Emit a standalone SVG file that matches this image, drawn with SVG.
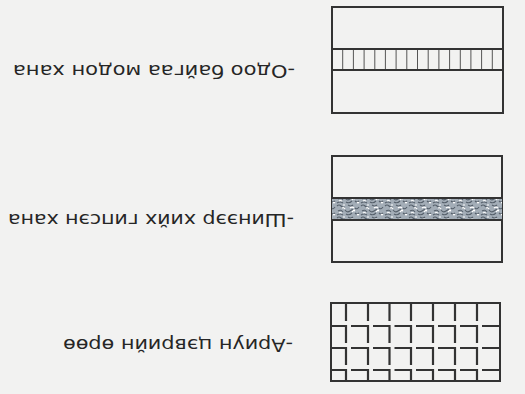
<svg xmlns="http://www.w3.org/2000/svg" width="525" height="394" viewBox="0 0 525 394">
  <defs>
    <pattern id="gypsum" patternUnits="userSpaceOnUse" width="24" height="12">
      <rect width="24" height="12" fill="#a3adb7"/>
      <path d="M1 2 q2 -2 4 0 t4 1 M12 1 q3 2 5 0 M19 4 q2 2 4 -1 M2 7 q3 -2 5 1 M9 6 q2 3 5 1 t4 -1 M1 11 q3 -2 6 0 M10 10 q3 2 6 -1 M19 9 q2 2 4 0" fill="none" stroke="#56606b" stroke-width="1.1"/>
      <path d="M6 4 q2 -1 3 1 M14 4 q2 -2 4 0 M3 9 q1 -1 3 0 M16 8 q1 -2 3 -1 M21 11 q1 -1 2 0 M7 1 h2 M17 6 h2" fill="none" stroke="#ffffff" stroke-width="1.2"/>
    </pattern>
    <style>
      .frame { fill: none; stroke: #333; stroke-width: 2; }
      .thin { fill: none; stroke: #555; stroke-width: 1; }
      .brick { fill: none; stroke: #333; stroke-width: 2.2; stroke-linecap: butt; }
      .label { font-family: "DejaVu Sans", "Liberation Sans", sans-serif; font-size: 17px; fill: #262626; }
    </style>
  </defs>
  <rect x="0" y="0" width="525" height="394" fill="#f2f2f1"/>

  <g id="existing-wooden-wall">
    <rect class="frame" x="332" y="7" width="171" height="106"/>
    <path class="thin" d="M342.7 49V70M353.4 49V70M364.1 49V70M374.8 49V70M385.4 49V70M396.1 49V70M406.8 49V70M417.5 49V70M428.2 49V70M438.9 49V70M449.6 49V70M460.3 49V70M470.9 49V70M481.6 49V70M492.3 49V70"/>
    <path class="frame" d="M332 49H503M332 70H503"/>
    <text class="label" transform="translate(295,65) rotate(180)" x="0" y="0" textLength="282" lengthAdjust="spacingAndGlyphs">-Одоо байгаа модон хана</text>
  </g>

  <g id="new-gypsum-wall">
    <rect class="frame" x="332" y="156" width="170" height="106"/>
    <rect x="332" y="198" width="170" height="22" fill="url(#gypsum)"/>
    <path class="frame" d="M332 198H502M332 220H502"/>
    <text class="label" transform="translate(294,214) rotate(180)" x="0" y="0" textLength="286" lengthAdjust="spacingAndGlyphs">-Шинээр хийх гипсэн хана</text>
  </g>

  <g id="bathroom">
    <rect class="frame" x="331" y="303" width="169" height="78"/>
    <path class="brick" d="
      M346 303V321M368 303V321M389.5 303V321M411 303V321M433 303V321M455 303V321M477 303V321
      M332 326H346V343M351 326H368V343M373 326H389.5V343M394.5 326H411V343M416 326H433V343M438 326H455V343M460 326H477V343M482 326H500
      M332 348H346V365M351 348H368V365M373 348H389.5V365M394.5 348H411V365M416 348H433V365M438 348H455V365M460 348H477V365M482 348H500
      M332 370H346V381M351 370H368V381M373 370H389.5V381M394.5 370H411V381M416 370H433V381M438 370H455V381M460 370H477V381M482 370H500"/>
    <text class="label" transform="translate(293,339) rotate(180)" x="0" y="0" textLength="230" lengthAdjust="spacingAndGlyphs">-Ариун цэврийн өрөө</text>
  </g>
</svg>
